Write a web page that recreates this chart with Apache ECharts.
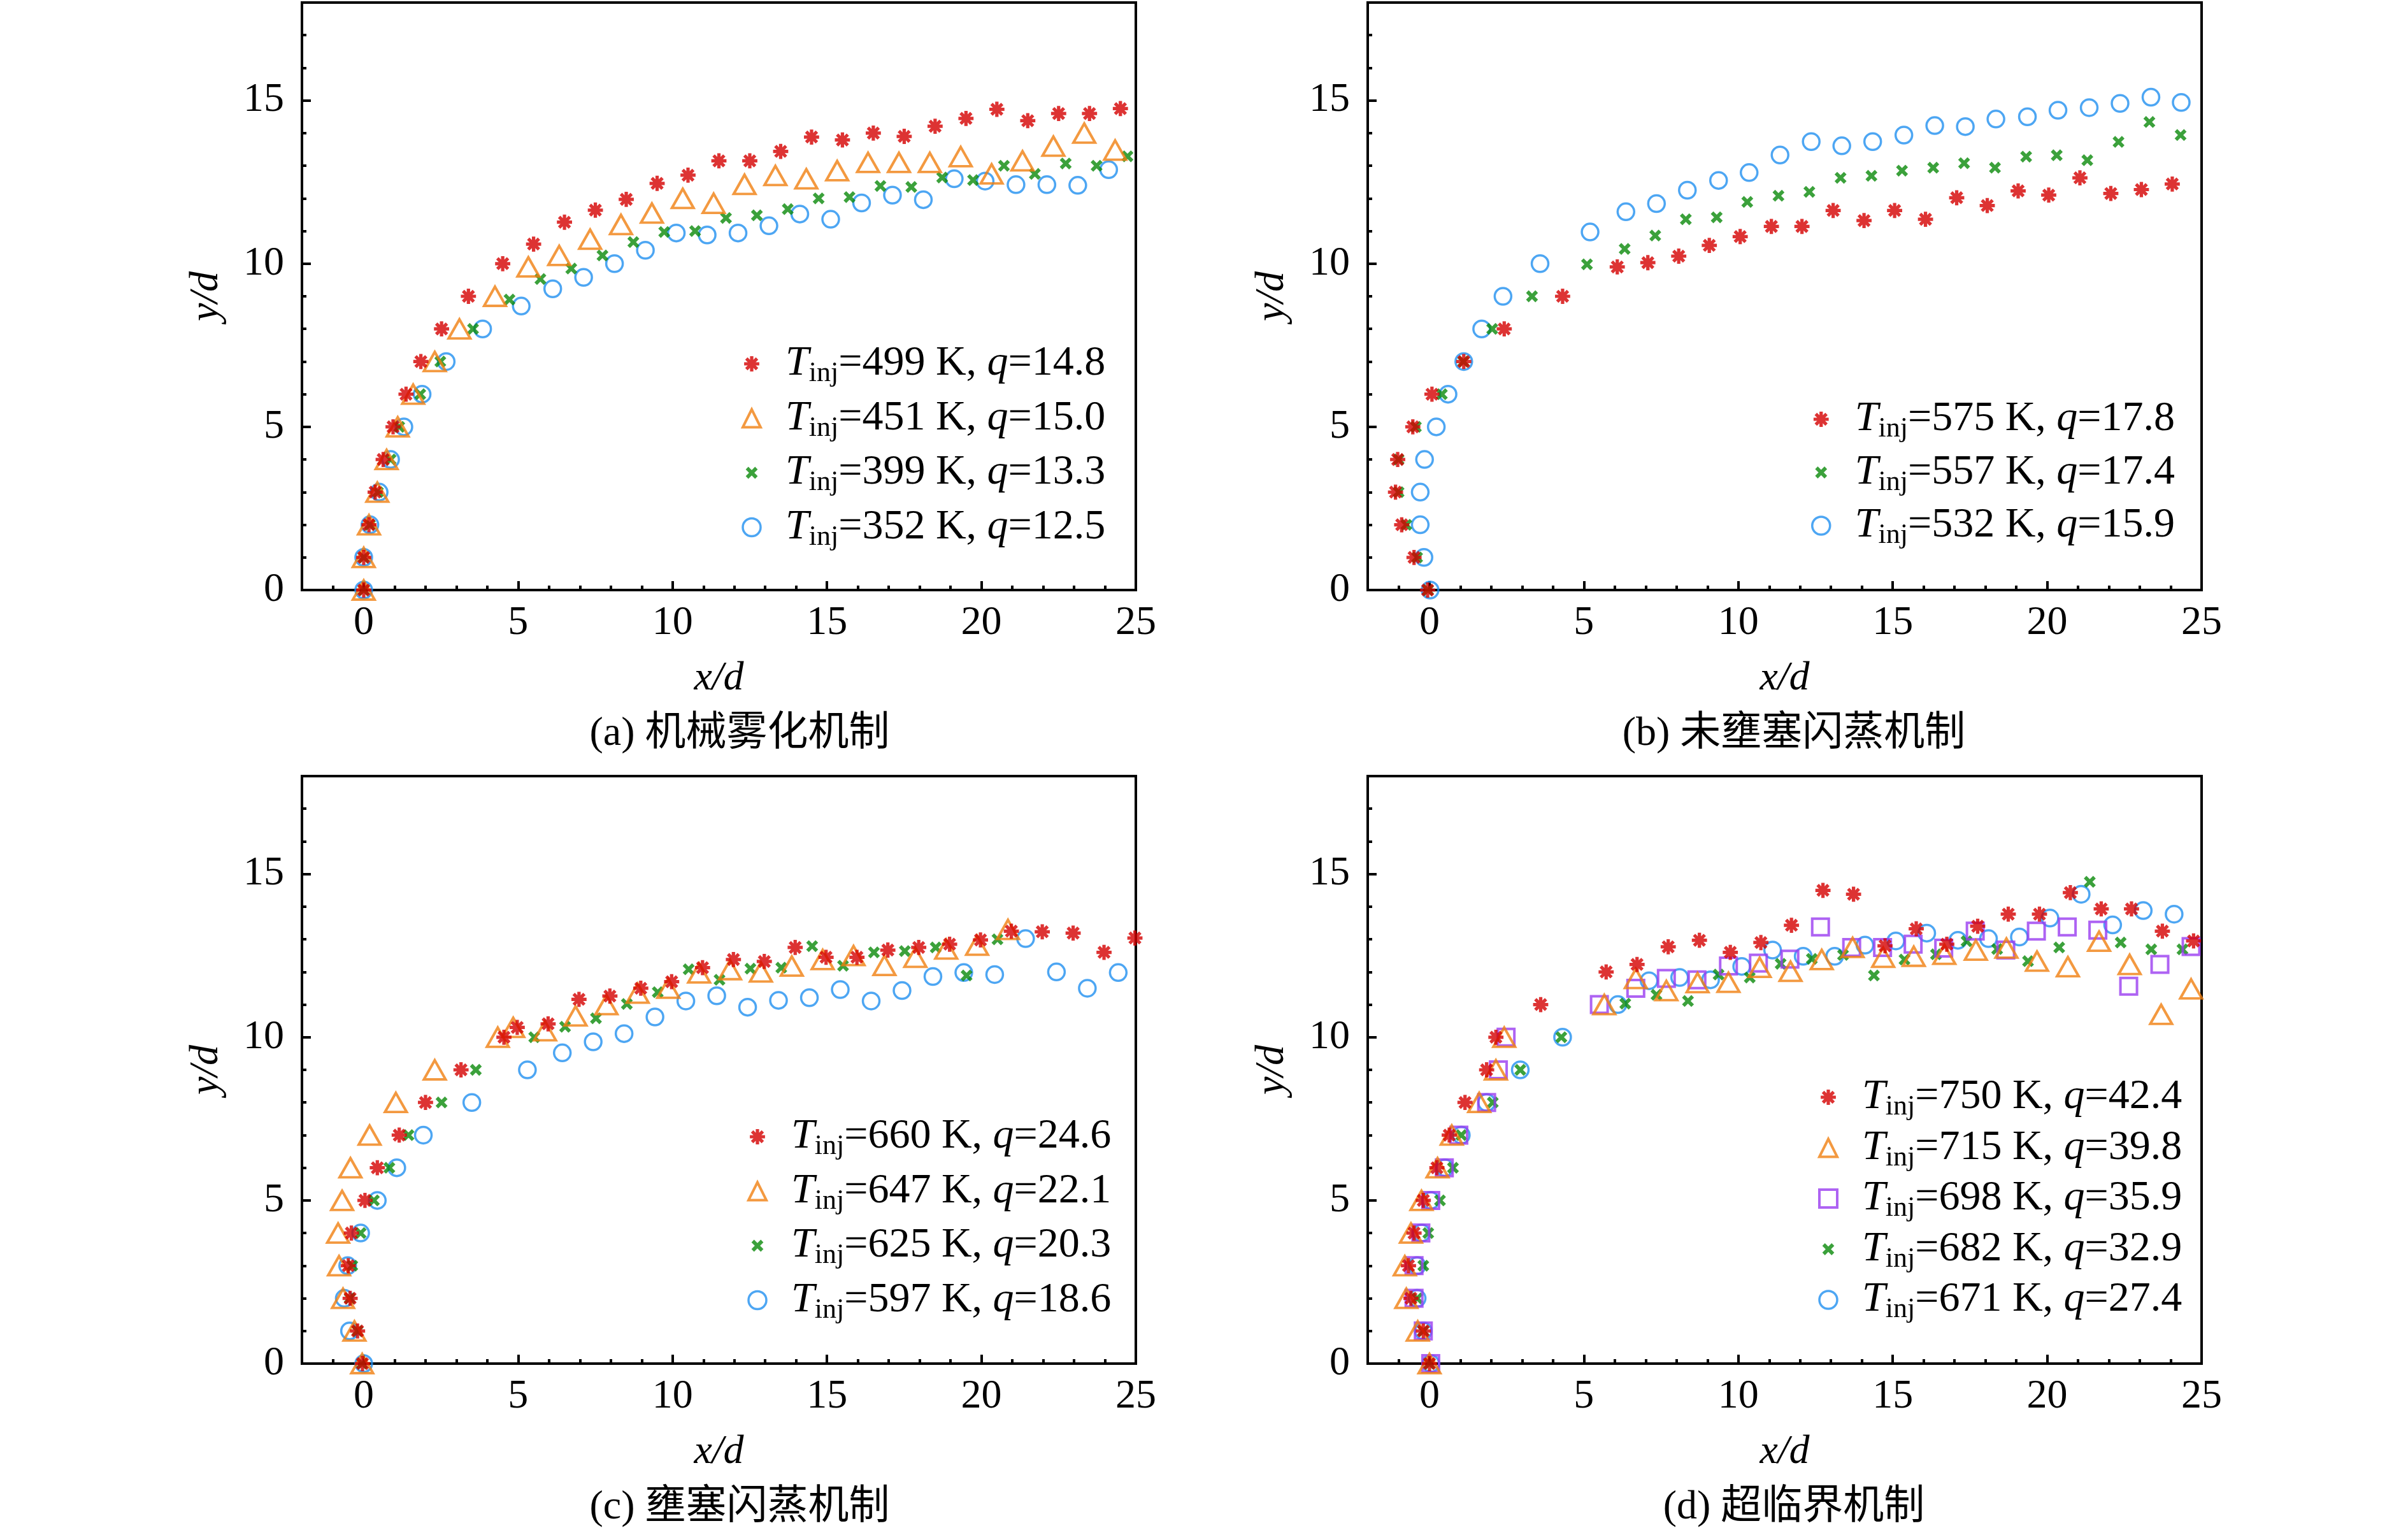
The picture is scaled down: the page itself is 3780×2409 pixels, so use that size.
<!DOCTYPE html>
<html>
<head>
<meta charset="utf-8">
<script src="https://cdn.jsdelivr.net/npm/echarts@6/dist/echarts.min.js"></script>
<style>
html, body { margin: 0; padding: 0; background: #fff; }
#main { width: 3780px; height: 2409px; }
</style>
</head>
<body>
<div id="main"></div>
<script>
// tick values
var xMajor = [0, 5, 10, 15, 20, 25];
var yMajor = [0, 5, 10, 15];

var captions = ['(a) 机械雾化机制', '(b) 未壅塞闪蒸机制', '(c) 壅塞闪蒸机制', '(d) 超临界机制'];

// (a) 机械雾化
var aTemp = [499, 451, 399, 352];
var aQ = ['14.8', '15.0', '13.3', '12.5'];
var a499 = [[0,0],[0,1],[0.17,2],[0.37,3],[0.63,4],[0.95,5],[1.37,6],[1.85,7],[2.52,8],[3.39,9],[4.5,10],[5.5,10.6],[6.5,11.27],[7.5,11.64],[8.5,11.97],[9.5,12.46],[10.5,12.71],[11.5,13.15],[12.5,13.15],[13.5,13.44],[14.5,13.88],[15.5,13.79],[16.5,14.0],[17.5,13.9],[18.5,14.21],[19.5,14.45],[20.5,14.73],[21.5,14.38],[22.5,14.6],[23.5,14.6],[24.5,14.75]];
var a451 = [[0,0],[0,1],[0.17,2],[0.44,3],[0.74,4],[1.1,5],[1.6,6],[2.3,7],[3.1,8],[4.25,9],[5.33,9.9],[6.33,10.25],[7.33,10.75],[8.33,11.2],[9.33,11.55],[10.33,12.0],[11.33,11.85],[12.33,12.43],[13.33,12.7],[14.33,12.6],[15.33,12.85],[16.33,13.1],[17.33,13.1],[18.33,13.1],[19.33,13.28],[20.33,12.75],[21.33,13.15],[22.33,13.6],[23.33,14.0],[24.33,13.48]];
var a399 = [[0,0],[0,1],[0.2,2],[0.46,3],[0.87,4],[1.15,5],[1.83,6],[2.48,7],[3.54,8],[4.72,8.9],[5.72,9.53],[6.72,9.85],[7.73,10.25],[8.73,10.66],[9.73,10.97],[10.73,11.0],[11.73,11.4],[12.73,11.48],[13.73,11.67],[14.73,12.0],[15.73,12.04],[16.73,12.38],[17.73,12.35],[18.73,12.64],[19.73,12.56],[20.73,13.0],[21.73,12.75],[22.73,13.07],[23.73,13.0],[24.73,13.29]];
var a352 = [[0,0],[0,1],[0.2,2],[0.5,3],[0.87,4],[1.3,5],[1.89,6],[2.67,7],[3.85,8],[5.1,8.7],[6.12,9.23],[7.12,9.58],[8.12,10.0],[9.12,10.41],[10.12,10.94],[11.12,10.88],[12.12,10.94],[13.12,11.16],[14.12,11.52],[15.12,11.36],[16.12,11.86],[17.12,12.1],[18.12,11.96],[19.12,12.6],[20.12,12.53],[21.12,12.42],[22.12,12.42],[23.12,12.4],[24.12,12.88]];

// (b) 未壅塞闪蒸
var bTemp = [575, 557, 532];
var bQ = ['17.8', '17.4', '15.9'];
var b575 = [[-0.06,0],[-0.5,1],[-0.9,2],[-1.1,3],[-1.03,4],[-0.54,5],[0.08,6],[1.11,7],[2.42,8],[4.31,9],[6.08,9.9],[7.07,10.03],[8.07,10.23],[9.06,10.56],[10.06,10.83],[11.07,11.14],[12.06,11.14],[13.07,11.63],[14.07,11.32],[15.06,11.63],[16.06,11.36],[17.07,12.02],[18.06,11.78],[19.06,12.23],[20.05,12.1],[21.06,12.63],[22.06,12.15],[23.05,12.27],[24.05,12.44]];
var b557 = [[-0.05,0],[-0.4,1],[-0.75,2],[-1.0,3],[-1.0,4],[-0.44,5],[0.4,6],[1.1,7],[2.03,8],[3.32,9],[5.1,9.98],[6.32,10.45],[7.31,10.86],[8.3,11.36],[9.3,11.42],[10.29,11.89],[11.3,12.08],[12.3,12.2],[13.31,12.63],[14.31,12.69],[15.3,12.85],[16.31,12.94],[17.31,13.08],[18.31,12.94],[19.32,13.28],[20.31,13.32],[21.3,13.17],[22.31,13.73],[23.31,14.34],[24.32,13.94]];
var b532 = [[0.02,0],[-0.18,1],[-0.3,2],[-0.3,3],[-0.16,4],[0.22,5],[0.6,6],[1.11,7],[1.69,8],[2.38,9],[3.58,10],[5.2,10.97],[6.36,11.59],[7.35,11.84],[8.35,12.25],[9.36,12.55],[10.35,12.79],[11.35,13.33],[12.36,13.74],[13.35,13.61],[14.35,13.74],[15.36,13.94],[16.36,14.23],[17.35,14.2],[18.34,14.43],[19.36,14.5],[20.35,14.7],[21.36,14.78],[22.36,14.91],[23.36,15.1],[24.34,14.94]];

// (c) 壅塞闪蒸
var cTemp = [660, 647, 625, 597];
var cQ = ['24.6', '22.1', '20.3', '18.6'];
var c660 = [[-0.04,0],[-0.2,1],[-0.44,2],[-0.5,3],[-0.4,4],[0.04,5],[0.44,6],[1.15,7],[2.0,8],[3.15,9],[4.54,10],[4.97,10.3],[5.97,10.41],[6.97,11.16],[7.97,11.26],[8.97,11.5],[9.97,11.7],[10.97,12.13],[11.97,12.38],[12.97,12.32],[13.97,12.75],[14.97,12.45],[15.97,12.45],[16.97,12.67],[17.97,12.75],[18.97,12.85],[19.97,12.98],[20.97,13.25],[21.97,13.23],[22.97,13.19],[23.97,12.6],[24.97,13.04]];
var c647 = [[-0.05,0],[-0.3,1],[-0.67,2],[-0.8,3],[-0.83,4],[-0.7,5],[-0.43,6],[0.19,7],[1.04,8],[2.3,9],[4.34,10],[4.84,10.3],[5.87,10.2],[6.86,10.65],[7.86,11.0],[8.87,11.35],[9.86,11.5],[10.86,11.97],[11.86,12.07],[12.86,12.0],[13.86,12.18],[14.86,12.38],[15.86,12.5],[16.86,12.2],[17.86,12.45],[18.86,12.7],[19.86,12.82],[20.86,13.3]];
var c625 = [[-0.05,0],[-0.2,1],[-0.45,2],[-0.37,3],[-0.1,4],[0.33,5],[0.83,6],[1.45,7],[2.52,8],[3.63,9],[5.52,10],[6.52,10.32],[7.52,10.58],[8.52,11.02],[9.52,11.38],[10.52,12.08],[11.52,11.76],[12.52,12.1],[13.52,12.13],[14.52,12.79],[15.52,12.19],[16.52,12.6],[17.52,12.64],[18.52,12.75],[19.52,11.89],[20.52,13.0]];
var c597 = [[0,0],[-0.46,1],[-0.63,2],[-0.52,3],[-0.1,4],[0.44,5],[1.07,6],[1.93,7],[3.5,8],[5.3,9],[6.43,9.52],[7.43,9.86],[8.43,10.11],[9.43,10.62],[10.43,11.11],[11.43,11.27],[12.43,10.92],[13.43,11.13],[14.43,11.21],[15.43,11.46],[16.43,11.11],[17.43,11.43],[18.43,11.86],[19.43,11.98],[20.43,11.92],[21.43,13.02],[22.43,12.0],[23.43,11.5],[24.43,11.98]];

// (d) 超临界
var dTemp = [750, 715, 698, 682, 671];
var dQ = ['42.4', '39.8', '35.9', '32.9', '27.4'];
var d750 = [[0,0],[-0.2,1],[-0.6,2],[-0.68,3],[-0.5,4],[-0.2,5],[0.24,6],[0.64,7],[1.15,8],[1.85,9],[2.15,10],[3.6,11],[5.72,12.0],[6.72,12.23],[7.73,12.77],[8.74,12.97],[9.74,12.6],[10.73,12.9],[11.72,13.43],[12.74,14.5],[13.73,14.38],[14.75,12.8],[15.76,13.32],[16.75,12.85],[17.75,13.4],[18.74,13.77],[19.75,13.77],[20.75,14.43],[21.75,13.93],[22.73,13.93],[23.73,13.25],[24.74,12.95]];
var d715 = [[0,0],[-0.38,1],[-0.75,2],[-0.8,3],[-0.6,4],[-0.26,5],[0.26,6],[0.72,7],[1.61,8],[2.15,9],[2.42,10],[5.66,11.0],[6.68,11.8],[7.67,11.43],[8.68,11.67],[9.68,11.68],[10.69,12.14],[11.69,12.02],[12.7,12.38],[13.7,12.75],[14.69,12.45],[15.68,12.48],[16.67,12.54],[17.69,12.67],[18.68,12.73],[19.67,12.33],[20.67,12.16],[21.68,12.94],[22.67,12.23],[23.69,10.7],[24.66,11.48]];
var d698 = [[0.04,0],[-0.2,1],[-0.5,2],[-0.5,3],[-0.28,4],[0.04,5],[0.48,6],[0.95,7],[1.85,8],[2.23,9],[2.48,10],[5.5,11.0],[6.68,11.5],[7.67,11.8],[8.66,11.76],[9.68,12.18],[10.65,12.27],[11.67,12.39],[12.66,13.38],[13.67,12.75],[14.67,12.75],[15.66,12.85],[16.65,12.73],[17.67,13.25],[18.66,12.67],[19.65,13.25],[20.65,13.38],[21.64,13.28],[22.64,11.56],[23.65,12.23],[24.66,12.78]];
var d682 = [[0,0],[-0.2,1],[-0.4,2],[-0.2,3],[-0.04,4],[0.34,5],[0.76,6],[1.03,7],[2.05,8],[2.94,9],[4.27,10],[6.34,11.03],[7.35,11.3],[8.37,11.11],[9.36,11.92],[10.37,11.83],[11.37,12.25],[12.38,12.4],[13.39,12.52],[14.39,11.89],[15.38,12.38],[16.4,12.54],[17.39,12.94],[18.38,12.7],[19.38,12.33],[20.39,12.75],[21.38,14.76],[22.38,12.9],[23.37,12.69],[24.38,12.69]];
var d671 = [[0.04,0],[-0.2,1],[-0.4,2],[-0.4,3],[-0.26,4],[0.04,5],[0.5,6],[1.03,7],[1.85,8],[2.94,9],[4.31,10],[6.1,11.0],[7.11,11.73],[8.1,11.83],[9.1,11.76],[10.11,12.17],[11.11,12.67],[12.1,12.48],[13.12,12.48],[14.1,12.82],[15.1,12.95],[16.1,13.19],[17.11,12.97],[18.1,13.02],[19.1,13.07],[20.09,13.65],[21.1,14.38],[22.12,13.44],[23.11,13.88],[24.11,13.77]];

var FONT = "'Liberation Serif','Times New Roman',serif";
var CAPFONT = "'Liberation Serif','Noto Sans CJK SC',serif";
var RED = '#d40000', ORANGE = '#f08010', GREEN = '#0a8a0a', BLUE = '#2090f0', PURPLE = '#9a3cf0';
var NONE = 'rgba(0,0,0,0)';

// marker shapes made of crossed bars, padded so they sit inside a square box
function bars(angles, halfW, scale) {
    var d = 'M0 0L0.01 0.01ZM100 100L99.99 99.99Z';
    var L = 50 * scale, W = L * halfW;
    angles.forEach(function (deg) {
        var a = deg * Math.PI / 180;
        var dx = Math.cos(a), dy = Math.sin(a), px = -dy, py = dx;
        var pts = [[L * dx + W * px, L * dy + W * py], [L * dx - W * px, L * dy - W * py],
                   [-L * dx - W * px, -L * dy - W * py], [-L * dx + W * px, -L * dy + W * py]];
        d += 'M' + pts.map(function (p) { return (50 + p[0]).toFixed(2) + ' ' + (50 + p[1]).toFixed(2); }).join('L') + 'Z';
    });
    return 'path://' + d;
}
var ASTER = bars([0, 45, 90, 135], 0.22, 0.85);
var CROSS = bars([45, 135], 0.28, 0.74);

var STYLE = {
    ast: { symbol: ASTER, size: 28, itemStyle: { color: RED, borderWidth: 0 } },
    tri: { symbol: 'triangle', size: [34, 30], itemStyle: { color: NONE, borderColor: ORANGE, borderWidth: 4 } },
    sq:  { symbol: 'rect', size: 26, itemStyle: { color: NONE, borderColor: PURPLE, borderWidth: 4 } },
    crs: { symbol: CROSS, size: 28, itemStyle: { color: GREEN, borderWidth: 0 } },
    cir: { symbol: 'circle', size: 26, itemStyle: { color: NONE, borderColor: BLUE, borderWidth: 3.5 } }
};

var grids = [
    { left: 474, top: 4, width: 1309, height: 922 },
    { left: 2147, top: 4, width: 1309, height: 922 },
    { left: 474, top: 1218, width: 1309, height: 922 },
    { left: 2147, top: 1218, width: 1309, height: 922 }
];
var panels = [
    { temps: aTemp, qs: aQ, kinds: ['ast', 'tri', 'crs', 'cir'], data: [a499, a451, a399, a352], lg: { left: 1164, top: 538, gap: 15 }, capX: 1161 },
    { temps: bTemp, qs: bQ, kinds: ['ast', 'crs', 'cir'], data: [b575, b557, b532], lg: { left: 2843, top: 625, gap: 13 }, capX: 2816 },
    { temps: cTemp, qs: cQ, kinds: ['ast', 'tri', 'crs', 'cir'], data: [c660, c647, c625, c597], lg: { left: 1173, top: 1751, gap: 15 }, capX: 1161 },
    { temps: dTemp, qs: dQ, kinds: ['ast', 'tri', 'sq', 'crs', 'cir'], data: [d750, d715, d698, d682, d671], lg: { left: 2854, top: 1689, gap: 9 }, capX: 2816 }
];

var legendRich = {
    g: { width: 34 },
    i: { fontFamily: FONT, fontStyle: 'italic', fontSize: 66, lineHeight: 75, color: '#000' },
    n: { fontFamily: FONT, fontSize: 66, lineHeight: 75, color: '#000' },
    s: { fontFamily: FONT, fontSize: 44, lineHeight: 22, verticalAlign: 'bottom', color: '#000' }
};

var option = { animation: false, backgroundColor: '#fff', grid: [], xAxis: [], yAxis: [], legend: [], series: [], graphic: [] };

panels.forEach(function (p, gi) {
    var g = grids[gi];
    option.grid.push({ left: g.left, top: g.top, width: g.width, height: g.height, show: true,
        borderColor: '#000', borderWidth: 4, backgroundColor: NONE, containLabel: false });

    // main axes: labels + long ticks; second axes: one short tick per unit
    option.xAxis.push({
        gridIndex: gi, type: 'value', min: -2, max: 25, position: 'bottom',
        axisLine: { show: true, onZero: false, lineStyle: { color: '#000', width: 4 } },
        axisTick: { show: true, inside: true, length: 14, customValues: xMajor, lineStyle: { color: '#000', width: 4 } },
        axisLabel: { customValues: xMajor, color: '#000', fontFamily: FONT, fontSize: 64, margin: 20 },
        splitLine: { show: false },
        name: 'x/d', nameLocation: 'middle', nameGap: 107,
        nameTextStyle: { color: '#000', fontFamily: FONT, fontStyle: 'italic', fontSize: 64, lineHeight: 64 }
    });
    option.xAxis.push({
        gridIndex: gi, type: 'value', min: -2, max: 25, interval: 1, position: 'bottom',
        axisLine: { show: true, onZero: false, lineStyle: { color: NONE, width: 1 } },
        axisTick: { show: true, inside: true, length: 7, lineStyle: { color: '#000', width: 4 } },
        axisLabel: { show: false }, splitLine: { show: false }
    });
    option.yAxis.push({
        gridIndex: gi, type: 'value', min: 0, max: 18, position: 'left',
        axisLine: { show: true, onZero: false, lineStyle: { color: '#000', width: 4 } },
        axisTick: { show: true, inside: true, length: 14, customValues: yMajor, lineStyle: { color: '#000', width: 4 } },
        axisLabel: { customValues: yMajor, color: '#000', fontFamily: FONT, fontSize: 64, margin: 28 },
        splitLine: { show: false },
        name: 'y/d', nameLocation: 'middle', nameGap: 118,
        nameTextStyle: { color: '#000', fontFamily: FONT, fontStyle: 'italic', fontSize: 64, lineHeight: 64 }
    });
    option.yAxis.push({
        gridIndex: gi, type: 'value', min: 0, max: 18, interval: 1, position: 'left',
        axisLine: { show: true, onZero: false, lineStyle: { color: NONE, width: 1 } },
        axisTick: { show: true, inside: true, length: 7, lineStyle: { color: '#000', width: 4 } },
        axisLabel: { show: false }, splitLine: { show: false }
    });

    var names = p.temps.map(function (t, k) { return 'Tinj=' + t + ' K, q=' + p.qs[k]; });

    // draw last legend entry first so the first one sits on top
    for (var k = names.length - 1; k >= 0; k--) {
        var st = STYLE[p.kinds[k]];
        option.series.push({
            type: 'scatter', name: names[k], xAxisIndex: gi * 2, yAxisIndex: gi * 2,
            data: p.data[k], symbol: st.symbol, symbolSize: st.size, itemStyle: st.itemStyle,
            clip: false, silent: true, emphasis: { disabled: true }
        });
    }

    option.legend.push({
        orient: 'vertical', left: p.lg.left, top: p.lg.top, padding: 0,
        itemWidth: 28, itemHeight: 28, itemGap: p.lg.gap, selectedMode: false,
        data: names.map(function (n, k) { return { name: n, itemStyle: STYLE[p.kinds[k]].itemStyle }; }),
        formatter: function (name) {
            var m = name.match(/Tinj=(\d+) K, q=([\d.]+)/);
            return '{g|}{i|T}{s|inj}{n|=' + m[1] + ' K, }{i|q}{n|=' + m[2] + '}';
        },
        textStyle: { rich: legendRich }
    });

    option.graphic.push({
        type: 'text', x: p.capX, y: g.top + g.height + 226,
        style: { text: captions[gi], fontSize: 64, fontFamily: CAPFONT, fill: '#000',
                 textAlign: 'center', textVerticalAlign: 'middle' }
    });
});

var myChart = echarts.init(document.getElementById('main'));
myChart.setOption(option);
</script>
</body>
</html>
